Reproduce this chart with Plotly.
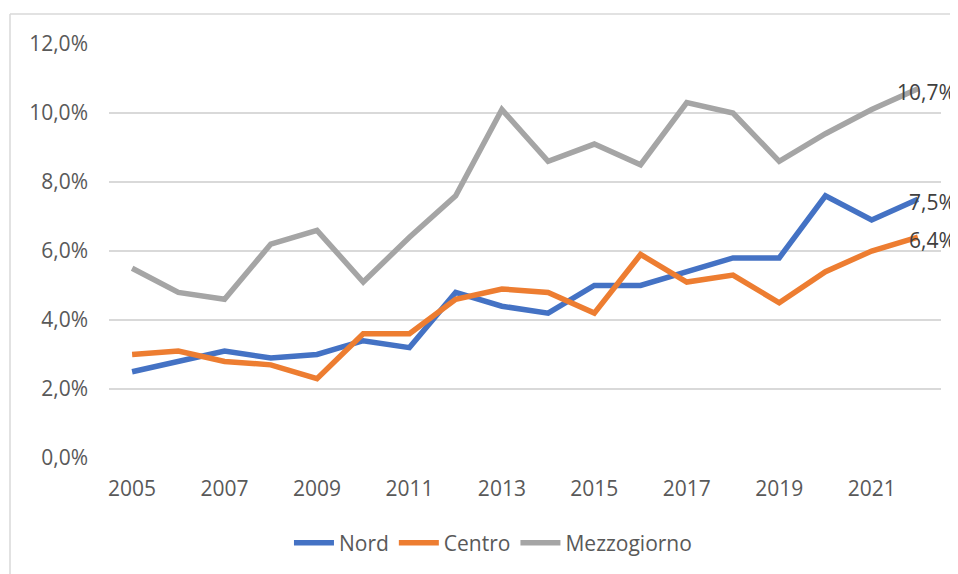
import plotly.graph_objects as go

years = list(range(2005, 2023))
nord = [2.5, 2.8, 3.1, 2.9, 3.0, 3.4, 3.2, 4.8, 4.4, 4.2, 5.0, 5.0, 5.4, 5.8, 5.8, 7.6, 6.9, 7.5]
centro = [3.0, 3.1, 2.8, 2.7, 2.3, 3.6, 3.6, 4.6, 4.9, 4.8, 4.2, 5.9, 5.1, 5.3, 4.5, 5.4, 6.0, 6.4]
mezzogiorno = [5.5, 4.8, 4.6, 6.2, 6.6, 5.1, 6.4, 7.6, 10.1, 8.6, 9.1, 8.5, 10.3, 10.0, 8.6, 9.4, 10.1, 10.7]
x_ticks = list(range(2005, 2022, 2))
y_ticks = [0, 2, 4, 6, 8, 10, 12]

series = [
    ('Nord', nord, '#4472C4'),
    ('Centro', centro, '#ED7D31'),
    ('Mezzogiorno', mezzogiorno, '#A5A5A5'),
]

FONT = 'Open Sans, sans-serif'
PCT = '\u0025'  # percent sign


def pct_it(v):
    # Italian style: 10,7%
    return ('{:.1f}'.format(v)).replace('.', ',') + PCT


fig = go.Figure()
for name, vals, col in series:
    fig.add_trace(go.Scatter(
        x=years, y=vals,
        mode='lines', name=name,
        line=dict(width=5.5, color=col)
    ))

# end-of-line data labels, pushed inside the chart area like Excel does
for name, vals, col in series:
    fig.add_annotation(
        x=1.0204, xref='paper', y=vals[-1], yref='y',
        text=pct_it(vals[-1]),
        showarrow=False, xanchor='right', yanchor='middle', yshift=-3,
        font=dict(family=FONT, size=21, color='#404040')
    )

# light chart-area frame (only top and left edges are visible)
frame_x0 = (2 - 101) / 832
frame_y1 = (451 - 6) / 415
fig.add_shape(type='line', xref='paper', yref='paper',
              x0=frame_x0, x1=1.2, y0=frame_y1, y1=frame_y1,
              line=dict(color='#D9D9D9', width=1.5), layer='below')
fig.add_shape(type='line', xref='paper', yref='paper',
              x0=frame_x0, x1=frame_x0, y0=-0.5, y1=frame_y1,
              line=dict(color='#D9D9D9', width=1.5), layer='below')

fig.update_xaxes(
    range=[2004.5, 2022.5],
    tickvals=x_ticks,
    showgrid=False, zeroline=False, showline=False,
    ticklabelstandoff=16,
    tickfont=dict(family=FONT, size=21, color='#595959')
)
fig.update_yaxes(
    range=[0, 12],
    tickvals=y_ticks,
    ticktext=[pct_it(v) for v in y_ticks],
    showgrid=True, gridcolor='#D9D9D9', gridwidth=1.5,
    zeroline=False, showline=False,
    ticklabelstandoff=20,
    tickfont=dict(family=FONT, size=21, color='#595959')
)
# page body adds an 8px offset, so the figure is sized to fit the window
fig.update_layout(
    width=950, height=566,
    margin=dict(l=101, r=17, t=36, b=115),
    plot_bgcolor='white',
    paper_bgcolor='white',
    showlegend=True,
    legend=dict(
        orientation='h', x=0.4615, xanchor='center', y=-0.2025, yanchor='middle',
        font=dict(family=FONT, size=21, color='#595959'),
        itemwidth=40
    )
)

fig.write_html("out.html")
